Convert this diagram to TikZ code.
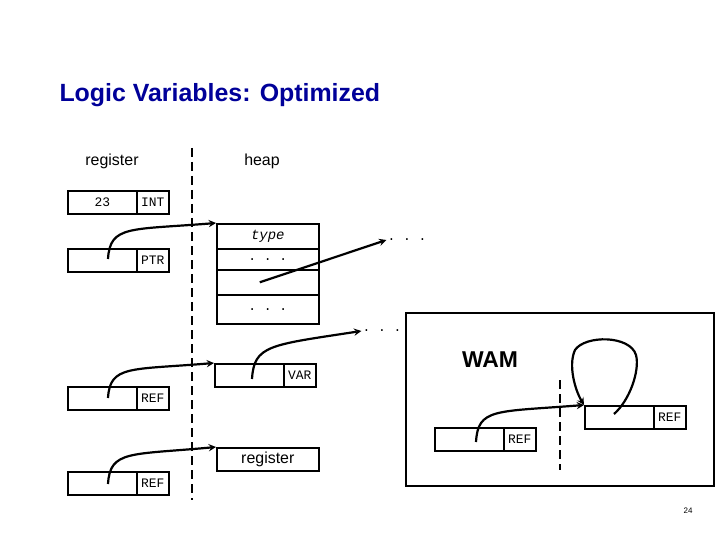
\documentclass[tikz,border=0pt]{standalone}
\usepackage{fontspec}
\setmainfont{Liberation Sans}
\setmonofont{Liberation Mono}
\definecolor{mytitle}{rgb}{0.0, 0.0, 0.6}

\begin{document}
\begin{tikzpicture}[x=1bp, y=-1bp,
  cell/.style={draw, line width=1.6bp, rectangle, minimum height=23bp, inner sep=0pt, anchor=north west},
  tag/.style={cell, minimum width=32bp, font=\ttfamily\fontsize{13}{15}\selectfont},
  val/.style={cell, minimum width=69bp, font=\ttfamily\fontsize{13}{15}\selectfont},
  ptr/.style={->, >=stealth, line width=2.2bp},
  sep/.style={line width=1.6bp, dash pattern=on 9bp off 5bp}]

  \useasboundingbox (0,0) rectangle (720,540);

  % Title and headings
  \node[anchor=west, font=\bfseries\fontsize{25}{30}\selectfont, text=mytitle] (title) at (56,95) {Logic Variables: Optimized};
  \node[font=\fontsize{16}{18}\selectfont] (reghead) at (112,161) {register};
  \node[font=\fontsize{16}{18}\selectfont] (heaphead) at (262,161) {heap};
  \node[font=\fontsize{8}{9}\selectfont] (page) at (688,511) {24};

  % Separator
  \coordinate (septop) at (192,148);
  \coordinate (sepbot) at (192,500);
  \draw[sep] (septop) -- (sepbot);

  % Register cells
  \node[val] (r1) at (67,190) {23};
  \node[tag] (r1t) at (136,190) {INT};
  \node[val] (r2) at (67,248) {};
  \node[tag] (r2t) at (136,248) {PTR};
  \node[val] (r3) at (67,386) {};
  \node[tag] (r3t) at (136,386) {REF};
  \node[val] (r4) at (67,471) {};
  \node[tag] (r4t) at (136,471) {REF};

  % Heap structure
  \node[cell, minimum width=102bp, minimum height=25bp, font=\ttfamily\itshape\fontsize{14}{16}\selectfont] (h1) at (216,223) {type};
  \node[cell, minimum width=102bp, minimum height=21bp, font=\ttfamily\fontsize{13}{15}\selectfont] (h2) at (216,248) {. . .};
  \node[cell, minimum width=102bp, minimum height=25bp] (h3) at (216,269) {};
  \node[cell, minimum width=102bp, minimum height=29bp, font=\ttfamily\fontsize{13}{15}\selectfont] (h4) at (216,294) {. . .};
  \node[val] (v1) at (214,363) {};
  \node[tag] (v1t) at (283,363) {VAR};
  \node[cell, minimum width=102bp, font=\fontsize{16}{18}\selectfont] (reg) at (216,447) {register};
  \node[font=\ttfamily\fontsize{13}{15}\selectfont, inner sep=1bp] (dots1) at (407,240) {. . .};
  \node[font=\ttfamily\fontsize{13}{15}\selectfont, inner sep=1bp] (dots2) at (382,331) {. . .};

  % Pointers
  \draw[ptr] (108,259) .. controls (110,225) and (130,230) .. (h1.north west);
  \draw[ptr] ([xshift=-8bp]h3.center) -- (dots1.west);
  \draw[ptr] (108,398) .. controls (110,365) and (130,370) .. (v1.north west);
  \draw[ptr] (252,379) .. controls (254,345) and (270,345) .. (dots2.west);
  \draw[ptr] (108,484) .. controls (110,450) and (130,455) .. (reg.north west);

  % WAM box
  \node[draw, line width=1.6bp, minimum width=308bp, minimum height=173bp, anchor=north west] (wam) at (405,312) {};
  \node[font=\bfseries\fontsize{23}{27}\selectfont] (wamlabel) at (490,360) {WAM};
  \coordinate (wsep1) at (560,380);
  \coordinate (wsep2) at (560,470);
  \draw[sep] (wsep1) -- (wsep2);
  \node[val] (w1) at (434,427) {};
  \node[tag] (w1t) at (503,427) {REF};
  \node[val] (w2) at (584,405) {};
  \node[tag] (w2t) at (653,405) {REF};
  \draw[ptr] (476,442) .. controls (478,408) and (495,412) .. (w2.north west);
  \draw[ptr] (614,414) .. controls (630,400) and (640,370) .. (636,355)
    .. controls (630,335) and (585,335) .. (575,350)
    .. controls (568,365) and (575,390) .. (w2.north west);

\end{tikzpicture}
\end{document}
